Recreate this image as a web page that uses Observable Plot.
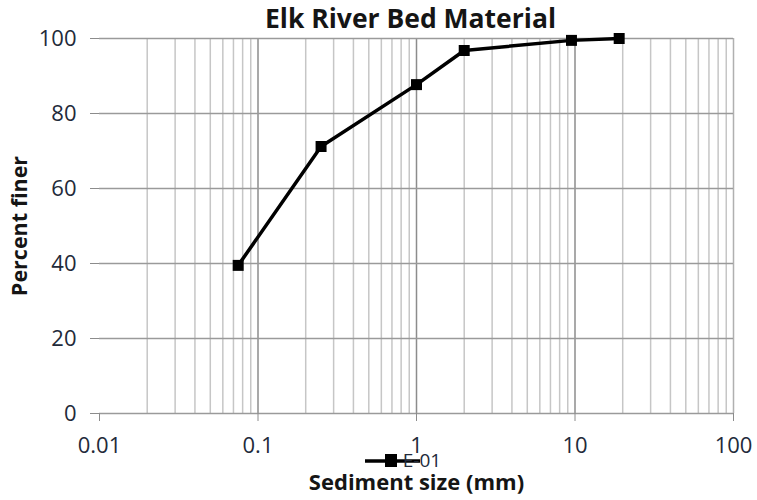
<!DOCTYPE html>
<html>
<head>
<meta charset="utf-8">
<script src="https://cdn.jsdelivr.net/npm/d3@7"></script>
<script src="https://cdn.jsdelivr.net/npm/@observablehq/plot@0.6"></script>
<style>
  html, body { margin: 0; padding: 0; background: #fff; }
  #chart { width: 757px; height: 500px; }
</style>
</head>
<body>
<div id="chart"></div>
<script>
// Data
const sizes = [0.075, 0.25, 1, 2, 9.5, 19];           // Sediment size (mm)
const finer = [39.5, 71.2, 87.7, 96.8, 99.5, 100];    // Percent finer
const seriesName = "E-01";

// Axis ticks
const xTicks = [0.01, 0.1, 1, 10, 100];
const xTickLabels = ["0.01", "0.1", "1", "10", "100"];
const xMinor = [0.02, 0.03, 0.04, 0.05, 0.06, 0.07, 0.08, 0.09,
                0.2, 0.3, 0.4, 0.5, 0.6, 0.7, 0.8, 0.9,
                2, 3, 4, 5, 6, 7, 8, 9,
                20, 30, 40, 50, 60, 70, 80, 90];
const xMajorInner = [0.1, 1, 10];
const yTicks = [0, 20, 40, 60, 80, 100];

const title = "Elk River Bed Material";
const xLabel = "Sediment size (mm)";
const yLabel = "Percent finer";

const data = sizes.map((s, i) => ({size: s, finer: finer[i]}));
const font = "'Open Sans', Lato, sans-serif";
const textColor = "#222a3a";

const chart = Plot.plot({
  width: 757,
  height: 500,
  marginLeft: 99,
  marginRight: 24,
  marginTop: 38,
  marginBottom: 87,
  style: {fontFamily: font, background: "#fff", overflow: "visible"},
  x: {type: "log", domain: [0.01, 100]},
  y: {domain: [0, 100]},
  marks: [
    Plot.ruleX(xMinor, {stroke: "#c6c6c6", strokeWidth: 1.5}),
    Plot.ruleX(xMajorInner, {stroke: "#8c8c8c", strokeWidth: 1.5}),
    Plot.ruleX([100], {stroke: "#b0b0b0", strokeWidth: 1.5}),
    Plot.ruleY(yTicks, {stroke: "#9a9a9a", strokeWidth: 1.5}),
    Plot.axisY({ticks: yTicks, tickSize: 9, tickPadding: 14, stroke: "#8c8c8c",
      fill: textColor, fontSize: 22, label: null, tickFormat: d => String(d)}),
    Plot.axisX({ticks: xTicks, tickSize: 8, tickPadding: 16, stroke: "#8c8c8c",
      fill: textColor, fontSize: 22, label: null,
      tickFormat: d => xTickLabels[xTicks.indexOf(d)]}),
    Plot.line(data, {x: "size", y: "finer", stroke: "#000", strokeWidth: 3.5}),
    Plot.dot(data, {x: "size", y: "finer", symbol: "square", r: 6.2, fill: "#000", stroke: "none"}),
    Plot.text([title], {frameAnchor: "top", dx: -6, dy: -19, lineAnchor: "middle",
      fontSize: 26.5, fontWeight: "bold", fill: "#151515"}),
    Plot.text([yLabel], {frameAnchor: "left", textAnchor: "middle", dx: -79, rotate: -90,
      fontSize: 21.5, fontWeight: "bold", fill: "#151515"}),
    Plot.text([xLabel], {frameAnchor: "bottom", textAnchor: "middle", dy: 69, lineAnchor: "middle",
      fontSize: 22, fontWeight: "bold", fill: "#151515"})
  ]
});

// Legend (line with square marker, series name)
const svg = d3.select(chart);
const lg = svg.append("g").attr("class", "legend");
lg.append("line").attr("x1", 365).attr("x2", 420).attr("y1", 461).attr("y2", 461)
  .attr("stroke", "#000").attr("stroke-width", 3.5);
lg.append("rect").attr("x", 385).attr("y", 454).attr("width", 12).attr("height", 13).attr("fill", "#000");
lg.append("text").attr("x", 422).attr("y", 467).text(seriesName)
  .attr("font-family", font).attr("font-size", 19).attr("fill", textColor);

document.getElementById("chart").appendChild(chart);
</script>
</body>
</html>
